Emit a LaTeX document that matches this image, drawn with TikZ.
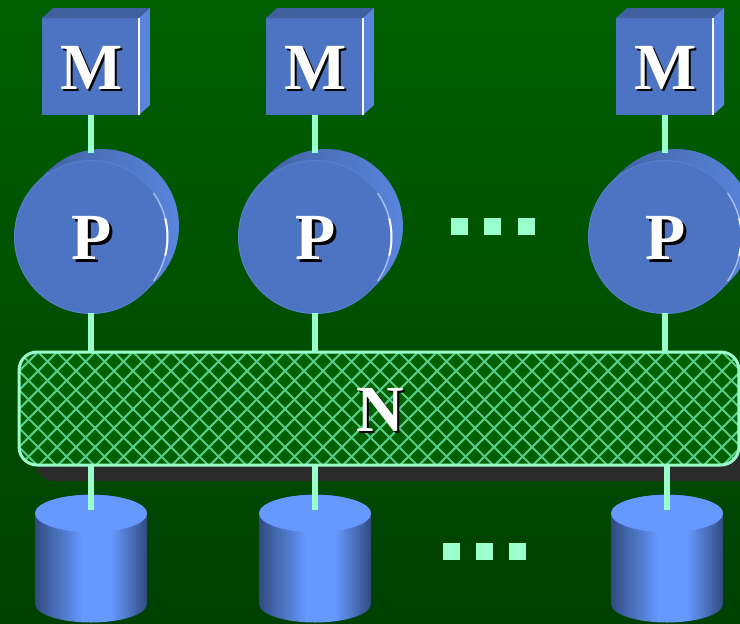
\documentclass[tikz,border=0pt]{standalone}
\usepackage{fontspec}
\setmainfont{Liberation Serif}
\usetikzlibrary{shapes.geometric,calc}
\definecolor{bgtop}{HTML}{006000}
\definecolor{bgbot}{HTML}{004000}
\definecolor{mint}{HTML}{99FFCC}
\definecolor{hatchgreen}{HTML}{55CC88}
\definecolor{netfill}{HTML}{006000}
\definecolor{boxfront}{HTML}{4D74C2}
\definecolor{boxtop}{HTML}{3F5F9F}
\definecolor{boxside}{HTML}{5A85DC}
\definecolor{diskedge}{HTML}{5580D0}
\definecolor{cyltop}{HTML}{6699FF}
\definecolor{cyldark}{HTML}{2F4A80}
\definecolor{netshadow}{HTML}{2B2B2B}
\pgfdeclarehorizontalshading{cylshade}{100bp}{
  color(0bp)=(cyldark); color(25bp)=(cyldark); color(32bp)=(cyltop!35!cyldark);
  color(42bp)=(cyltop!80!cyldark); color(46bp)=(cyltop);
  color(59bp)=(cyltop); color(68bp)=(cyltop!45!cyldark); color(75bp)=(cyldark); color(100bp)=(cyldark)}
\newcommand{\dropletter}[1]{\leavevmode\rule{0pt}{27.5pt}\kern1pt\rlap{\kern1.4pt\raisebox{-1.4pt}{\color{black}#1}}{\color{white}#1}}
\tikzset{
  letter/.style={font=\fontsize{37.5}{38}\selectfont\bfseries},
  memfront/.style={rectangle,fill=boxfront,minimum size=1.94cm,inner sep=0pt,outer sep=0pt,letter},
  procfront/.style={circle,fill=boxfront,draw=diskedge,line width=.6pt,minimum size=3.06cm,inner sep=0pt,outer sep=0pt,letter},
  procback/.style={circle,minimum size=3.08cm,inner sep=0pt,outer sep=0pt,left color=boxtop,right color=boxside},
  diskcap/.style={ellipse,fill=cyltop,minimum width=2.24cm,minimum height=.75cm,inner sep=0pt,outer sep=0pt},
  wire/.style={mint,line width=.12cm},
  dotsq/.style={rectangle,fill=mint,minimum size=.34cm,inner sep=0pt,outer sep=0pt},
  network/.style={rectangle,rounded corners=.36cm,draw=mint,line width=.06cm,fill=netfill,
    minimum width=14.4cm,minimum height=2.26cm,inner sep=0pt,outer sep=0pt,letter},
  hatch/.style={hatchgreen,line width=.04cm}
}
\begin{document}
\begin{tikzpicture}[x=.02cm,y=-.02cm]
\clip (0,0) rectangle (740,623);
\shade[top color=bgtop,bottom color=bgbot] (0,0) rectangle (740,623);
% network with its shadow
\fill[netshadow,rounded corners=.36cm] (36,380) rectangle (760,481);
\node[network,path picture={
  \foreach \d in {-114,-95,...,740}{
    \draw[hatch] ([xshift=\d*.02cm]path picture bounding box.north west) -- ++(114,114);
    \draw[hatch] ([xshift=\d*.02cm]path picture bounding box.north west) ++(114,0) -- ++(-114,114);
  }}] (net) at (379,408.5) {\dropletter{N}};
% one column per processor
\foreach \i/\cx/\dx/\mx in {1/91/91/90.5,2/315/315/314.5,3/665/667/664.5}{
  \node[diskcap] (capD\i) at (\dx,513.5) {};
  \shade[shading=cylshade] (capD\i.west) -- ++(0,90.5) arc[start angle=180,end angle=360,x radius=1.12cm,y radius=.37cm] -- (capD\i.east) -- cycle;
  \node[diskcap] at (\dx,513.5) {};
  \node[memfront] (mem\i) at (\mx,66.5) {\dropletter{M}};
  \fill[boxtop] (mem\i.north west) -- ++(11,-10) -- ++(97,0) -- (mem\i.north east) -- cycle;
  \fill[boxside] (mem\i.north east) -- ++(11,-10) -- ++(0,97) -- (mem\i.south east) -- cycle;
  \draw[white,line width=.03cm] (mem\i.north east) -- (mem\i.south east);
  \node[procback] (back\i) at (\cx+11,226) {};
  \fill[boxtop!50!boxside] ($(back\i.center)+(-54.5,-54.5)$) -- ++(-11,11) -- ++(109,109) -- ++(11,-11) -- cycle;
  \node[procfront] (proc\i) at (\cx,237) {\dropletter{P}};
  \draw[boxside!55!white,line width=.03cm] (proc\i.-35) arc[start angle=-35,end angle=35,radius=1.53cm];
  \draw[white,line width=.04cm] (proc\i.-14) arc[start angle=-14,end angle=14,radius=1.53cm];
  \draw[wire,shorten >=-.08cm] (mem\i.south -| proc\i) -- (back\i.north -| proc\i);
  \draw[wire] (proc\i.south) -- (proc\i.south |- net.north);
  \draw[wire,shorten >=.07cm] (capD\i.center |- net.south) -- (capD\i.center);
}
% the gaps between the columns
\foreach \x/\n in {459.5/a,492.5/b,526.5/c} \node[dotsq] (top\n) at (\x,226.5) {};
\foreach \x/\n in {451.5/a,484.5/b,517.5/c} \node[dotsq] (low\n) at (\x,551.5) {};
\end{tikzpicture}
\end{document}
